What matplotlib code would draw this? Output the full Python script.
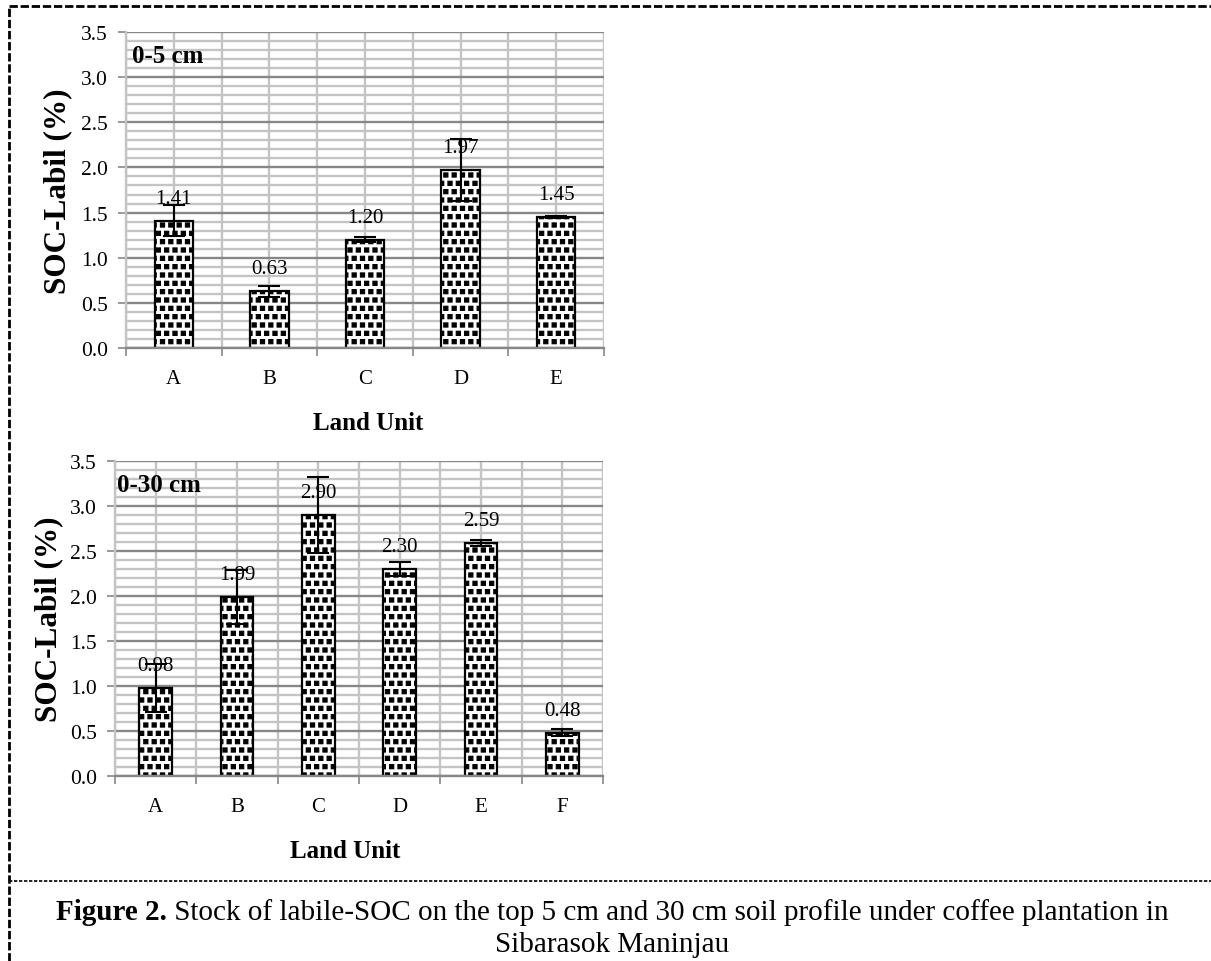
"""
Labile SOC under coffee plantation, two depth panels with caption.
"""

import matplotlib

matplotlib.use("Agg")
import matplotlib.pyplot as plt
import matplotlib.hatch as mhatch
import numpy as np
from matplotlib.lines import Line2D
from matplotlib.path import Path
from matplotlib.ticker import MultipleLocator

plt.rcParams["font.family"] = ["Liberation Serif", "DejaVu Serif"]
plt.rcParams["hatch.linewidth"] = 0.8

# 0-5 cm
top_units = ["A", "B", "C", "D", "E"]
top_soc = [1.41, 0.63, 1.20, 1.97, 1.45]
top_err = [0.17, 0.06, 0.03, 0.34, 0.01]

# 0-30 cm
sub_units = ["A", "B", "C", "D", "E", "F"]
sub_soc = [0.98, 1.99, 2.90, 2.30, 2.59, 0.48]
sub_err = [0.27, 0.30, 0.42, 0.08, 0.03, 0.04]

GRID_DARK = "#878787"
GRID_LIGHT = "#c4c4c4"


class SquareDots(mhatch.Shapes):
    """Filled little squares, used in place of the star hatch ('*')."""

    size = 0.5
    filled = True

    def __init__(self, hatch, density):
        self.num_rows = hatch.count("*") * density
        rect = Path.unit_rectangle()
        self.shape_vertices = rect.vertices - 0.5
        self.shape_codes = rect.codes
        super().__init__(hatch, density)


mhatch._hatch_types = [t for t in mhatch._hatch_types if t is not mhatch.Stars]
mhatch._hatch_types.append(SquareDots)


def draw_panel(ax, units, soc, err, depth, depth_x, ylabel_x, xlabel_x):
    n = len(units)
    x = np.arange(n)
    ax.set_xlim(-0.5, n - 0.5)
    ax.set_ylim(0, 3.5)

    ax.set_xticks(np.arange(n + 1) - 0.5)
    ax.set_xticklabels([])
    ax.set_xticks(x, minor=True)
    ax.set_xticklabels(units, minor=True, fontsize=15)
    ax.tick_params(axis="x", which="major", length=6, width=1.2, color=GRID_DARK)
    ax.tick_params(axis="x", which="minor", length=0, pad=15)

    ax.set_yticks(np.arange(0, 3.51, 0.5))
    ax.set_yticklabels([f"{v:.1f}" for v in np.arange(0, 3.51, 0.5)], fontsize=15.5)
    ax.yaxis.set_minor_locator(MultipleLocator(0.1))
    ax.tick_params(axis="y", which="major", length=6, width=1.2, color=GRID_DARK, pad=7)
    ax.tick_params(axis="y", which="minor", length=0)

    ax.grid(which="major", axis="y", color=GRID_DARK, lw=1.7)
    ax.grid(which="minor", axis="y", color=GRID_LIGHT, lw=1.7)
    ax.grid(which="both", axis="x", color=GRID_LIGHT, lw=1.7)
    ax.set_axisbelow(True)

    for side in ["top", "right"]:
        ax.spines[side].set_visible(False)
    ax.spines["left"].set_color(GRID_LIGHT)
    ax.spines["left"].set_linewidth(1.7)
    ax.spines["bottom"].set_color(GRID_DARK)
    ax.spines["bottom"].set_linewidth(1.7)

    ax.bar(x, soc, width=0.4, color="white", edgecolor="black",
           hatch="**", linewidth=1.6, zorder=2)
    ax.errorbar(x, soc, yerr=err, fmt="none", ecolor="black",
                elinewidth=1.5, capsize=8, capthick=1.5, zorder=3)
    for xi, v in zip(x, soc):
        ax.annotate(f"{v:.2f}", (xi, v), xytext=(0, 16),
                    textcoords="offset points", ha="center", va="center",
                    fontsize=15, zorder=4)

    ax.text(depth_x, 0.925, depth, transform=ax.transAxes, fontsize=18,
            fontweight="bold", ha="left", va="center")

    ax.set_ylabel("SOC-Labil (%)", fontsize=22.5, fontweight="bold")
    ax.yaxis.label.set_va("center")
    ax.yaxis.set_label_coords(ylabel_x, 0.5)
    ax.set_xlabel("Land Unit", fontsize=18, fontweight="bold")
    ax.xaxis.label.set_va("center")
    ax.xaxis.set_label_coords(xlabel_x, -0.237)


fig = plt.figure(figsize=(12.11, 9.62), dpi=100)
W, H = 1211, 962

ax1 = fig.add_axes([126 / W, 1 - 349 / H, 478 / W, 316 / H])
draw_panel(ax1, top_units, top_soc, top_err, "0-5 cm", 0.012, -0.142, 0.506)

ax2 = fig.add_axes([115 / W, 1 - 777 / H, 488 / W, 315 / H])
draw_panel(ax2, sub_units, sub_soc, sub_err, "0-30 cm", 0.004, -0.135, 0.471)

# dashed frame around the figure block
frame = dict(transform=fig.transFigure, color="black")
fig.add_artist(Line2D([9 / W, 1], [1 - 7 / H] * 2, lw=2, ls=(0, (3, 1)), **frame))
fig.add_artist(Line2D([9 / W] * 2, [0, 1 - 7 / H], lw=2, ls=(0, (3, 1)), **frame))
fig.add_artist(Line2D([9 / W, 1], [1 - 882 / H] * 2, lw=1.2, ls=(0, (2, 1)), **frame))

# caption: bold "Figure 2." followed by regular text, centred as one line
cap_font = 21
bold = fig.text(0, 1 - 913 / H, "Figure 2.", fontsize=cap_font, fontweight="bold",
                ha="left", va="center")
rest = fig.text(0, 1 - 913 / H, " Stock of labile-SOC on the top 5 cm and 30 cm soil "
                "profile under coffee plantation in", fontsize=cap_font,
                ha="left", va="center")
fig.text(612 / W, 1 - 945 / H, "Sibarasok Maninjau", fontsize=cap_font,
         ha="center", va="center")

renderer = fig.canvas.get_renderer()
w_bold = bold.get_window_extent(renderer).width
w_rest = rest.get_window_extent(renderer).width
start = 612 - (w_bold + w_rest) / 2
bold.set_x(start / W)
rest.set_x((start + w_bold) / W)

fig.savefig("out.png", dpi=100)
